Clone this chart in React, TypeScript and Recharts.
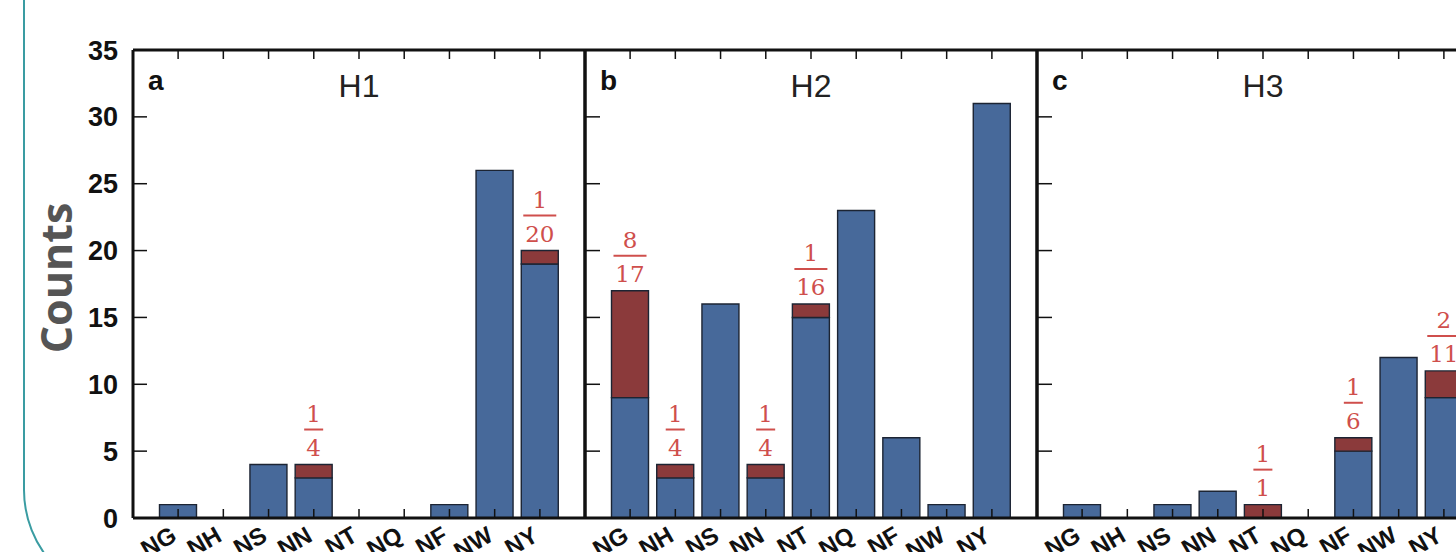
// Counts per category for H1 / H2 / H3, blue stack with red share on top

import { BarChart, Bar, XAxis, YAxis, LabelList } from 'recharts';

// ── Data ───────────────────────────────────────────────────────────────────────
const CATEGORIES = ['NG', 'NH', 'NS', 'NN', 'NT', 'NQ', 'NF', 'NW', 'NY'];

const H1_BLUE = [1, 0, 4, 3, 0, 0, 1, 26, 19];
const H1_RED = [0, 0, 0, 1, 0, 0, 0, 0, 1];

const H2_BLUE = [9, 3, 16, 3, 15, 23, 6, 1, 31];
const H2_RED = [8, 1, 0, 1, 1, 0, 0, 0, 0];

const H3_BLUE = [1, 0, 1, 2, 0, 0, 5, 12, 9];
const H3_RED = [0, 0, 0, 0, 1, 0, 1, 0, 2];

const Y_TICKS = [0, 5, 10, 15, 20, 25, 30, 35];

// ── Colour tokens ─────────────────────────────────────────────────────────────
const BLUE = '#47699a';
const RED = '#8b3a3b';
const FRAC = '#cf4f4c';
const INK = '#111';
const SANS = '"Liberation Sans", Arial, sans-serif';

const PLOT_W = 452;
const PLOT_TOP = 50;
const PLOT_H = 468;
const TOP_AXIS_H = 10;
const BOTTOM_AXIS_H = 40;

function rows(blue: number[], red: number[]) {
  return CATEGORIES.map((cat, i) => ({
    cat,
    blue: blue[i],
    red: red[i],
    frac: red[i] > 0 ? `${red[i]}/${blue[i] + red[i]}` : undefined,
  }));
}

// ── Pieces ────────────────────────────────────────────────────────────────────
function CatTick({ x, y, payload }: any) {
  const px = x;
  const py = y + 22;
  return (
    <text
      x={px}
      y={py}
      transform={`rotate(-30, ${px}, ${py})`}
      textAnchor="end"
      fontSize={24}
      fontWeight="bold"
      fontFamily={SANS}
      fill={INK}
    >
      {payload.value}
    </text>
  );
}

const NoTick = () => <g />;

function FracLabel(props: any) {
  const vb = props.viewBox ?? props;
  const x = vb.x ?? props.x;
  const y = vb.y ?? props.y;
  const width = vb.width ?? props.width;
  const { value } = props;
  if (!value) return null;
  const [num, den] = String(value).split('/');
  const cx = x + width / 2;
  const lineW = den.length * 14 + 5;
  return (
    <g>
      <text x={cx} y={y - 43} textAnchor="middle" fill={FRAC} fontSize={23} fontFamily='"DejaVu Serif", serif'>
        {num}
      </text>
      <line x1={cx - lineW / 2} x2={cx + lineW / 2} y1={y - 35} y2={y - 35} stroke={FRAC} strokeWidth={2} />
      <text x={cx} y={y - 9} textAnchor="middle" fill={FRAC} fontSize={23} fontFamily='"DejaVu Serif", serif'>
        {den}
      </text>
    </g>
  );
}

function Panel({ blue, red, letter, title, first }: {
  blue: number[]; red: number[]; letter: string; title: string; first: boolean;
}) {
  const data = rows(blue, red);
  const leftW = first ? 133 : 16;
  const width = leftW + PLOT_W + 16;
  const axisLine = { stroke: INK, strokeWidth: 3 };
  const tickLine = { stroke: INK, strokeWidth: 1.5 };

  const titleLabel = (p: any) => {
    const vb = p.viewBox;
    return (
      <g>
        <text x={vb.x + 15} y={vb.y + 50} fontSize={28} fontWeight="bold" fontFamily={SANS} fill={INK}>
          {letter}
        </text>
        <text x={vb.x + vb.width / 2} y={vb.y + 57} textAnchor="middle" fontSize={32} fontFamily={SANS} fill="#222">
          {title}
        </text>
      </g>
    );
  };

  const countsLabel = (p: any) => {
    const vb = p.viewBox;
    const cx = vb.x + 55;
    const cy = vb.y + vb.height / 2 - 6;
    return (
      <text
        x={cx}
        y={cy}
        transform={`rotate(-90, ${cx}, ${cy})`}
        textAnchor="middle"
        dominantBaseline="central"
        fontSize={43}
        fontWeight="bold"
        fontFamily='"Open Sans", sans-serif'
        fill="#555"
      >
        Counts
      </text>
    );
  };

  return (
    <BarChart
      width={width}
      height={PLOT_TOP + PLOT_H + BOTTOM_AXIS_H}
      data={data}
      margin={{ top: PLOT_TOP - TOP_AXIS_H, right: 0, bottom: 0, left: 0 }}
      barSize={37}
    >
      <XAxis
        dataKey="cat"
        height={BOTTOM_AXIS_H}
        padding={{ left: 22.5, right: 22.5 }}
        axisLine={axisLine}
        tickLine={tickLine}
        tickSize={-9}
        tickMargin={9}
        interval={0}
        tick={<CatTick />}
      />
      <XAxis
        xAxisId="top"
        orientation="top"
        dataKey="cat"
        height={TOP_AXIS_H}
        padding={{ left: 22.5, right: 22.5 }}
        axisLine={axisLine}
        tickLine={tickLine}
        tickSize={-9}
        interval={0}
        tick={<NoTick />}
        label={{ content: titleLabel }}
      />
      <YAxis
        width={leftW}
        domain={[0, 35]}
        ticks={Y_TICKS}
        interval={0}
        axisLine={axisLine}
        tickLine={tickLine}
        tickSize={first ? -14 : -15}
        tickMargin={first ? 29 : 0}
        tick={first ? { fill: INK, fontSize: 27, fontWeight: 'bold', fontFamily: SANS } : <NoTick />}
        label={first ? { content: countsLabel } : undefined}
      />
      <YAxis
        yAxisId="right"
        orientation="right"
        width={16}
        domain={[0, 35]}
        ticks={Y_TICKS}
        interval={0}
        axisLine={axisLine}
        tickLine={tickLine}
        tickSize={-15}
        tick={<NoTick />}
      />
      <Bar dataKey="blue" stackId="s" fill={BLUE} stroke="#1c2433" strokeWidth={1.4} isAnimationActive={false} />
      <Bar dataKey="red" stackId="s" fill={RED} stroke="#1c2433" strokeWidth={1.4} isAnimationActive={false}>
        <LabelList dataKey="frac" content={<FracLabel />} />
      </Bar>
    </BarChart>
  );
}

export default function App() {
  return (
    <div
      style={{
        position: 'fixed', left: 0, top: 0, width: 1456, height: 552,
        overflow: 'hidden', background: '#fff',
      }}
    >
      {/* teal rounded frame, only left edge and bottom-left corner visible */}
      <div
        style={{
          position: 'absolute', left: 23, top: -200, width: 1600, height: 800,
          border: '2px solid #3a9ca2', borderRadius: 110, boxSizing: 'border-box',
        }}
      />
      <div style={{ position: 'absolute', left: 0, top: 0 }}>
        <Panel blue={H1_BLUE} red={H1_RED} letter="a" title="H1" first />
      </div>
      <div style={{ position: 'absolute', left: 585 - 16, top: 0 }}>
        <Panel blue={H2_BLUE} red={H2_RED} letter="b" title="H2" first={false} />
      </div>
      <div style={{ position: 'absolute', left: 1037 - 16, top: 0 }}>
        <Panel blue={H3_BLUE} red={H3_RED} letter="c" title="H3" first={false} />
      </div>
    </div>
  );
}
